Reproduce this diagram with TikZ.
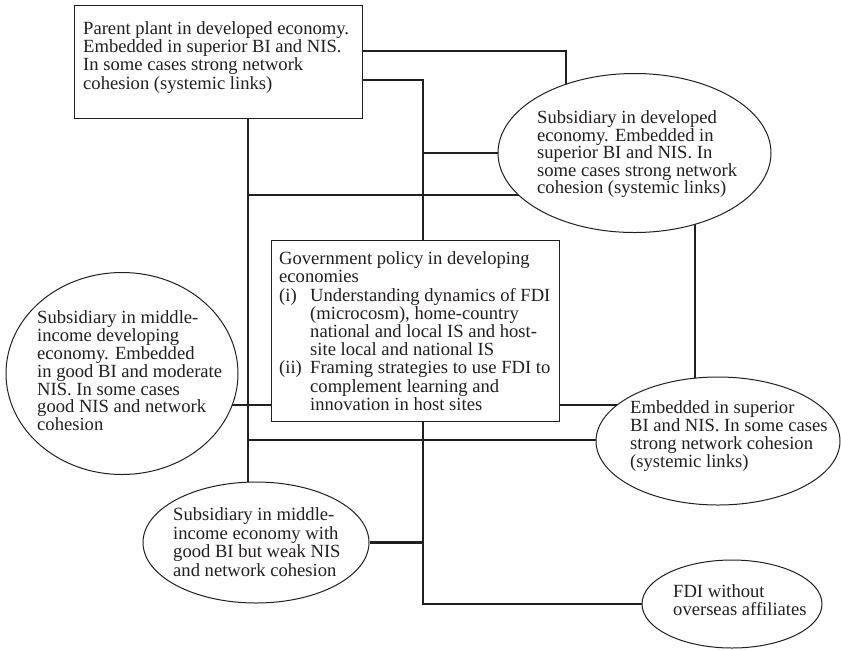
\documentclass[tikz,border=0pt]{standalone}
\usepackage{fontspec}
\setmainfont{Liberation Serif}
\usetikzlibrary{shapes.geometric,backgrounds}
\definecolor{ink}{HTML}{231F20}
\newcommand{\textlead}[1]{\fontsize{18.6}{#1}\selectfont}
\begin{document}
\begin{tikzpicture}[x=1pt,y=-1pt,
  link/.style={draw=ink,line width=2.2pt},
  boxshape/.style={draw=ink,line width=1pt,fill=white,rectangle,inner sep=0pt},
  oval/.style={draw=ink,line width=1pt,fill=white,ellipse,inner sep=0pt},
  txt/.style={inner sep=0pt,align=left,anchor=north west,text=ink,
    font=\textlead{18.2}}]
\useasboundingbox (0,0) rectangle (841,649);

% boxes and ovals
\node[boxshape,minimum width=288pt,minimum height=113pt] (parent) at (218,61.5) {};
\node[oval,minimum width=273pt,minimum height=159pt] (subdev) at (634.5,153) {};
\node[boxshape,minimum width=288pt,minimum height=181pt] (gov) at (415,330.5) {};
\node[oval,minimum width=232pt,minimum height=202pt] (midleft) at (122,373.5) {};
\node[oval,minimum width=244pt,minimum height=128pt] (embedded) at (718,441) {};
\node[oval,minimum width=226pt,minimum height=121pt] (midbottom) at (256,542.5) {};
\node[oval,minimum width=180pt,minimum height=88pt] (fdi) at (732,604) {};

% texts
\node[txt] (parent-t) at (83,21.3) {Parent plant in developed economy.\\
Embedded in superior BI and NIS.\\
In some cases strong network\\
cohesion (systemic links)};
\node[txt,font=\textlead{17.6}] (subdev-t) at (537,110.3) {Subsidiary in developed\\
economy. Embedded in\\
superior BI and NIS. In\\
some cases strong network\\
cohesion (systemic links)};
\node[txt] (gov-t) at (279,251.5) {Government policy in developing\\
economies\\
\makebox[31pt][l]{(i)}Understanding dynamics of FDI\\
\hspace*{31pt}(microcosm), home-country\\
\hspace*{31pt}national and local IS and host-\\
\hspace*{31pt}site local and national IS\\
\makebox[31pt][l]{(ii)}Framing strategies to use FDI to\\
\hspace*{31pt}complement learning and\\
\hspace*{31pt}innovation in host sites};
\node[txt,font=\textlead{17.9}] (midleft-t) at (37,310.3) {Subsidiary in middle-\\
income developing\\
economy. Embedded\\
in good BI and moderate\\
NIS. In some cases\\
good NIS and network\\
cohesion};
\node[txt,font=\textlead{18}] (embedded-t) at (630,400.3) {Embedded in superior\\
BI and NIS. In some cases\\
strong network cohesion\\
(systemic links)};
\node[txt,font=\textlead{18.6}] (midbottom-t) at (173,507.3) {Subsidiary in middle-\\
income economy with\\
good BI but weak NIS\\
and network cohesion};
\node[txt,font=\textlead{18}] (fdi-t) at (673,584.3) {FDI without\\
overseas affiliates};

% junction points of the connectors
\coordinate (jA) at (566,51);
\coordinate (jB) at (423,80);
\coordinate (jC) at (248,118);
\coordinate (jD) at (248,195);
\coordinate (jE) at (695,232);
\coordinate (jF) at (248,405);
\coordinate (jH) at (248,440);
\coordinate (jI) at (423,605);
\coordinate (jJ) at (423,543);

% connectors, kept under the filled shapes
\begin{scope}[on background layer]
\draw[link] (parent.east |- jA) -| (subdev.center -| jA);
\draw[link] (parent.east |- jB) -| (gov.north -| jB);
\draw[link] (jB |- subdev.west) -- (subdev.west);
\draw[link] (parent.south -| jC) -- (midbottom.center -| jC);
\draw[link] (jD) -- (subdev.center |- jD);
\draw[link] (subdev.center -| jE) -- (embedded.center -| jE);
\draw[link] (midleft.center |- jF) -- (gov.west |- jF);
\draw[link] (gov.east |- jF) -- (embedded.center |- jF);
\draw[link] (jH) -- (embedded.center |- jH);
\draw[link] (gov.south -| jI) |- (fdi.west);
\draw[link] (midbottom.east) -- (midbottom.east -| jJ);
\end{scope}
\end{tikzpicture}
\end{document}
